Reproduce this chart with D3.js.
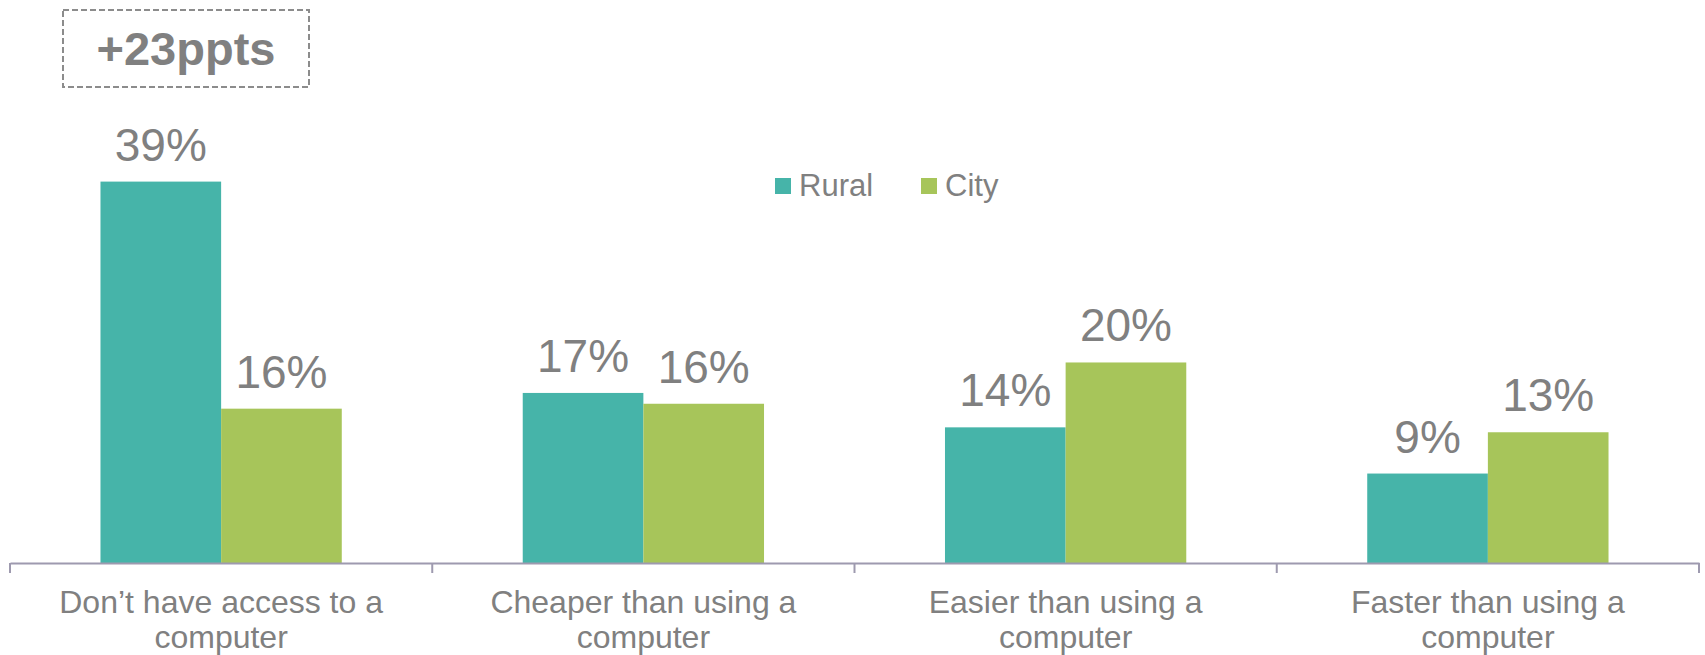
<!DOCTYPE html>
<html>
<head>
<meta charset="utf-8">
<script src="https://cdn.jsdelivr.net/npm/d3@7"></script>
<style>
  html, body { margin: 0; padding: 0; background: #fff; }
  svg { display: block; font-family: "Liberation Sans", Arial, sans-serif; }
</style>
</head>
<body>
<svg id="chart" width="1705" height="655"></svg>
<script>
/************
** data
*************/
var categories = [
    ["Don\u2019t have access to a", "computer"],
    ["Cheaper than using a", "computer"],
    ["Easier than using a", "computer"],
    ["Faster than using a", "computer"]
];
var series = ["Rural", "City"];
var rural = [38.8, 17.3, 13.8, 9.1];
var city = [15.7, 16.2, 20.4, 13.3];
var callout = "+23ppts";

/************
** colors
*************/
var ruralColor = "#46b4a9";
var cityColor = "#a7c55a";
var textGrey = "#808080";
var axisGrey = "#9e9aaf";

var svg = d3.select("#chart");
var axisY = 563;

var x0 = d3.scaleBand()
    .domain(d3.range(categories.length))
    .range([10, 1699])
    .padding(0);
var x1 = d3.scaleBand()
    .domain(series)
    .range([0, x0.bandwidth()])
    .paddingInner(0)
    .paddingOuter(0.75);
var y = d3.scaleLinear()
    .domain([0, 40])
    .range([axisY, axisY - 40 * 9.83]);
var color = d3.scaleOrdinal().domain(series).range([ruralColor, cityColor]);

var rows = categories.map(function(c, i){
    return [{s: "Rural", v: rural[i]}, {s: "City", v: city[i]}];
});

/************
** bars + labels
*************/
var groups = svg.selectAll("g.group").data(rows)
    .enter().append("g")
        .attr("class", "group")
        .attr("transform", function(d, i){ return "translate(" + x0(i) + ",0)"; });

groups.selectAll("rect").data(function(d){ return d; })
    .enter().append("rect")
        .attr("x", function(d){ return x1(d.s); })
        .attr("y", function(d){ return y(d.v); })
        .attr("width", x1.bandwidth())
        .attr("height", function(d){ return y(0) - y(d.v); })
        .attr("fill", function(d){ return color(d.s); });

groups.selectAll("text.val").data(function(d){ return d; })
    .enter().append("text")
        .attr("class", "val")
        .attr("x", function(d){ return x1(d.s) + x1.bandwidth() / 2; })
        .attr("y", function(d){ return y(d.v) - 21; })
        .attr("text-anchor", "middle")
        .attr("font-size", 46)
        .attr("fill", textGrey)
        .text(function(d){ return Math.round(d.v) + "%"; });

/************
** x axis
*************/
var axis = svg.append("g")
    .attr("transform", "translate(0," + axisY + ")")
    .call(d3.axisBottom(x0).tickValues([]).tickSizeOuter(0));
axis.select(".domain").attr("stroke", axisGrey).attr("stroke-width", 2);

var tickPos = x0.domain().map(function(i){ return x0(i); }).concat([x0.range()[1]]);
axis.selectAll("line.sep").data(tickPos)
    .enter().append("line")
        .attr("class", "sep")
        .attr("x1", function(d){ return d; })
        .attr("x2", function(d){ return d; })
        .attr("y1", 0)
        .attr("y2", 10)
        .attr("stroke", axisGrey)
        .attr("stroke-width", 2);

var catLabels = svg.selectAll("text.cat").data(categories)
    .enter().append("text")
        .attr("class", "cat")
        .attr("text-anchor", "middle")
        .attr("font-size", 32)
        .attr("fill", textGrey);
catLabels.selectAll("tspan").data(function(d, i){
        return d.map(function(line){ return {line: line, i: i}; });
    })
    .enter().append("tspan")
        .attr("x", function(d){ return x0(d.i) + x0.bandwidth() / 2; })
        .attr("y", function(d, j){ return 613 + j * 35; })
        .text(function(d){ return d.line; });

/************
** legend
*************/
var legendX = [775, 921];
var legend = svg.selectAll("g.legend").data(series)
    .enter().append("g")
        .attr("class", "legend")
        .attr("transform", function(d, i){ return "translate(" + legendX[i] + ",178)"; });
legend.append("rect")
    .attr("width", 16)
    .attr("height", 16)
    .attr("fill", function(d){ return color(d); });
legend.append("text")
    .attr("x", 24)
    .attr("y", 18)
    .attr("font-size", 31)
    .attr("fill", textGrey)
    .text(function(d){ return d; });

/************
** callout
*************/
svg.append("rect")
    .attr("x", 63)
    .attr("y", 10)
    .attr("width", 246)
    .attr("height", 77)
    .attr("fill", "none")
    .attr("stroke", "#8c8c8c")
    .attr("stroke-width", 2)
    .attr("stroke-dasharray", "6,3");
svg.append("text")
    .attr("x", 186)
    .attr("y", 65)
    .attr("text-anchor", "middle")
    .attr("font-size", 47)
    .attr("font-weight", "bold")
    .attr("fill", textGrey)
    .text(callout);
</script>
</body>
</html>
